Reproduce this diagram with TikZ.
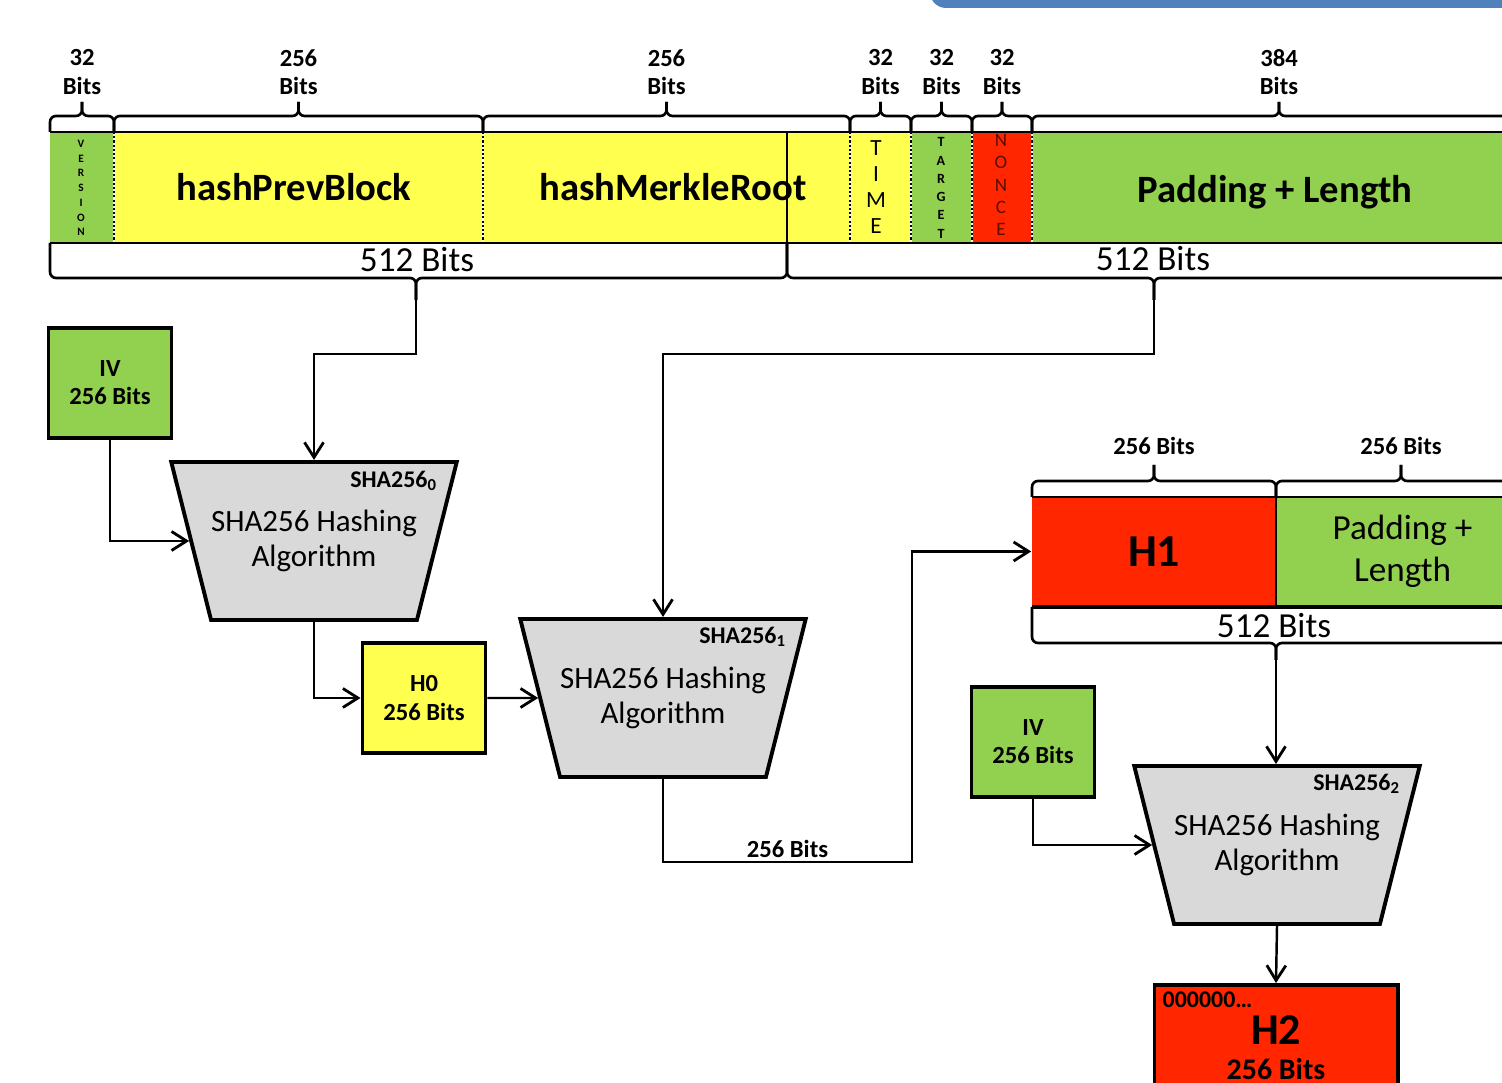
\documentclass[tikz,border=0pt]{standalone}
\usepackage{fontspec}
\setmainfont{Carlito}
\usetikzlibrary{arrows.meta,calc,positioning,shapes.geometric}
\definecolor{Leaf}{HTML}{92D050}
\definecolor{Lemon}{HTML}{FFFF50}
\definecolor{Flame}{HTML}{FF2600}
\definecolor{Ash}{HTML}{D9D9D9}
\definecolor{Steel}{HTML}{4F81BD}
\tikzset{
  brc/.style={line width=0.75pt,rounded corners=0.6mm},
  conn/.style={line width=0.7pt,-{Straight Barb[length=1.5mm,width=1.9mm,line width=0.8pt]}},
  bitlbl/.style={font=\bfseries\fontsize{7}{8}\selectfont,align=center},
  biglbl/.style={font=\bfseries\fontsize{11}{13}\selectfont},
  sizelbl/.style={font=\fontsize{10}{12}\selectfont},
  vtxt/.style={align=center,inner sep=0pt},
  regbox/.style={draw,line width=1.1pt,minimum width=1.23cm,minimum height=1.1cm,align=center,font=\bfseries\fontsize{7}{8}\selectfont},
  sha/.style={trapezium,trapezium angle=65,shape border rotate=180,trapezium stretches body,draw,line width=1.1pt,fill=Ash,inner xsep=0pt,minimum width=2.0cm,minimum height=1.58cm,align=center,font=\fontsize{8.8}{10}\selectfont},
  shatag/.style={font=\bfseries\fontsize{6.8}{8}\selectfont}
}
\begin{document}
\begin{tikzpicture}[x=0.01cm,y=-0.01cm]
\useasboundingbox (0,0) rectangle (1502,1083);
\clip (0,0) rectangle (1502,1083);
% title strip
\fill[Steel,rounded corners=1.6mm] (930,-40) rectangle (1560,8);

% block header, first 1024 bits
\foreach \a/\b/\c in {50/114/Leaf,114/483/Lemon,483/850/Lemon,850/911/Lemon,911/972/Leaf,972/1032/Flame,1032/1530/Leaf}
  \fill[\c] (\a,132) rectangle (\b,243);
\draw[line width=0.45pt] (50,132) -- (1530,132) (50,243) -- (1530,243);
\foreach \x in {114,483,850,911,972,1032}{
  \draw[white,line width=0.6pt] (\x,132) -- (\x,243);
  \draw[line width=0.6pt,dash pattern=on 0.6pt off 0.6pt] (\x,132) -- (\x,243);
}
\draw[line width=0.6pt] (787,132) -- (787,243);

\foreach \a/\b/\n [count=\i] in {50/114/32,114/483/256,483/850/256,850/911/32,911/972/32,972/1032/32,1032/1526/384}{
  \pgfmathsetmacro{\m}{(\a+\b)/2}
  \draw[brc] (\a,132) -- (\a,116) -- (\m,116) -- (\m,102);
  \draw[brc] (\b,132) -- (\b,116) -- (\m,116) -- (\m,102);
  \node[bitlbl] (w\i) at (\m,72) {\n\\Bits};
}

\node[vtxt,font=\bfseries\fontsize{3.2}{4.2}\selectfont] (ver) at (81,188) {V\\E\\R\\S\\I\\O\\N};
\node[biglbl] (prev) at (294,187) {hashPrevBlock};
\node[biglbl] (merkle) at (673,187) {hashMerkleRoot};
\node[vtxt,font=\fontsize{6.6}{7.4}\selectfont] (time) at (876,187) {T\\I\\M\\E};
\node[vtxt,font=\bfseries\fontsize{4}{5.2}\selectfont] (target) at (941,188) {T\\A\\R\\G\\E\\T};
\node[vtxt,text=Flame!35!black,font=\fontsize{5.4}{6.3}\selectfont] (nonce) at (1001,185) {N\\O\\N\\C\\E};
\node[biglbl] (pad) at (1275,192) {Padding + Length};

% two 512 bit chunks
\draw[brc] (50,243) -- (50,278) -- (416,278) -- (416,300);
\draw[brc] (787,243) -- (787,278) -- (416,278) -- (416,300);
\draw[brc] (787,243) -- (787,278) -- (1154,278) -- (1154,300);
\draw[brc] (1521,243) -- (1521,278) -- (1154,278) -- (1154,300);
\coordinate (b1) at (416,300);
\coordinate (b2) at (1154,300);
\node[sizelbl] (s1) at (417,260) {512 Bits};
\node[sizelbl] (s2) at (1153,259) {512 Bits};

% first hash
\node[regbox,fill=Leaf] (iv0) at (110,383) {IV\\256 Bits};
\node[sha] (sha0) at (314,541) {SHA256 Hashing\\Algorithm};
\node[shatag] (t0) at ($(sha0)+(80,-60)$) {SHA256\textsubscript{0}};
\node[regbox,fill=Lemon] (h0) at (424,698) {H0\\256 Bits};
\node[sha] (sha1) at (663,698) {SHA256 Hashing\\Algorithm};
\node[shatag] (t1) at ($(sha1)+(80,-61)$) {SHA256\textsubscript{1}};

% second hash
\node[fill=Flame,minimum width=2.44cm,minimum height=1.09cm,inner sep=0pt,font=\bfseries\fontsize{13}{15}\selectfont] (h1) at (1154,551.5) {H1};
\node[fill=Leaf,minimum width=2.5cm,minimum height=1.09cm,inner sep=0pt,anchor=west,align=center,font=\fontsize{10}{12}\selectfont] (pl) at (h1.east) {Padding +\\Length};
\draw[line width=0.8pt] (1032,497) -- (1530,497);
\draw[line width=0.9pt] (1032,607) -- (1530,607);
\draw[line width=0.5pt] (1276,497) -- (1276,606);
\foreach \a/\b [count=\i] in {1032/1276,1276/1526}{
  \pgfmathsetmacro{\m}{(\a+\b)/2}
  \draw[brc] (\a,497) -- (\a,481) -- (\m,481) -- (\m,465);
  \draw[brc] (\b,497) -- (\b,481) -- (\m,481) -- (\m,465);
  \node[bitlbl] (u\i) at (\m,446) {256 Bits};
}
\draw[brc] (1032,607) -- (1032,643) -- (1276,643) -- (1276,660);
\draw[brc] (1520,607) -- (1520,643) -- (1276,643) -- (1276,660);
\coordinate (b3) at (1276,660);
\node[sizelbl] (s3) at (1274,626) {512 Bits};

\node[regbox,fill=Leaf] (iv1) at (1033,742) {IV\\256 Bits};
\node[sha] (sha2) at (1277,845) {SHA256 Hashing\\Algorithm};
\node[shatag] (t2) at ($(sha2)+(80,-61)$) {SHA256\textsubscript{2}};
\node[draw,line width=1.1pt,fill=Flame,minimum width=2.43cm,minimum height=1.3cm] (h2) at (1276,1050) {};
\node[font=\bfseries\fontsize{12.5}{14}\selectfont] (h2a) at (1276,1030) {H2};
\node[font=\bfseries\fontsize{8.5}{10}\selectfont] (h2b) at (1276,1069) {256 Bits};
\node[anchor=west,inner sep=0pt,font=\bfseries\fontsize{6.8}{8}\selectfont] (h2c) at (1162,1000) {000000\ldots};

% connectors
\coordinate (k1) at (912,862);
\draw[conn] (b1) -- ++(0,54) -| (sha0.north);
\draw[conn] (iv0.south) |- (sha0.west);
\draw[conn] (sha0.south) |- (h0.west);
\draw[conn] (h0.east) -- (sha1.west);
\draw[conn] (b2) -- ++(0,54) -| (sha1.north);
\draw[conn] (sha1.south) |- node[pos=0.75,above,bitlbl,inner sep=1pt] (lb) {256 Bits} (k1) |- (h1.west);
\draw[conn] (b3) -- (b3 |- sha2.north);
\draw[conn] (iv1.south) |- (sha2.west);
\draw[conn] (sha2.south) -- (h2.north);
\end{tikzpicture}
\end{document}
